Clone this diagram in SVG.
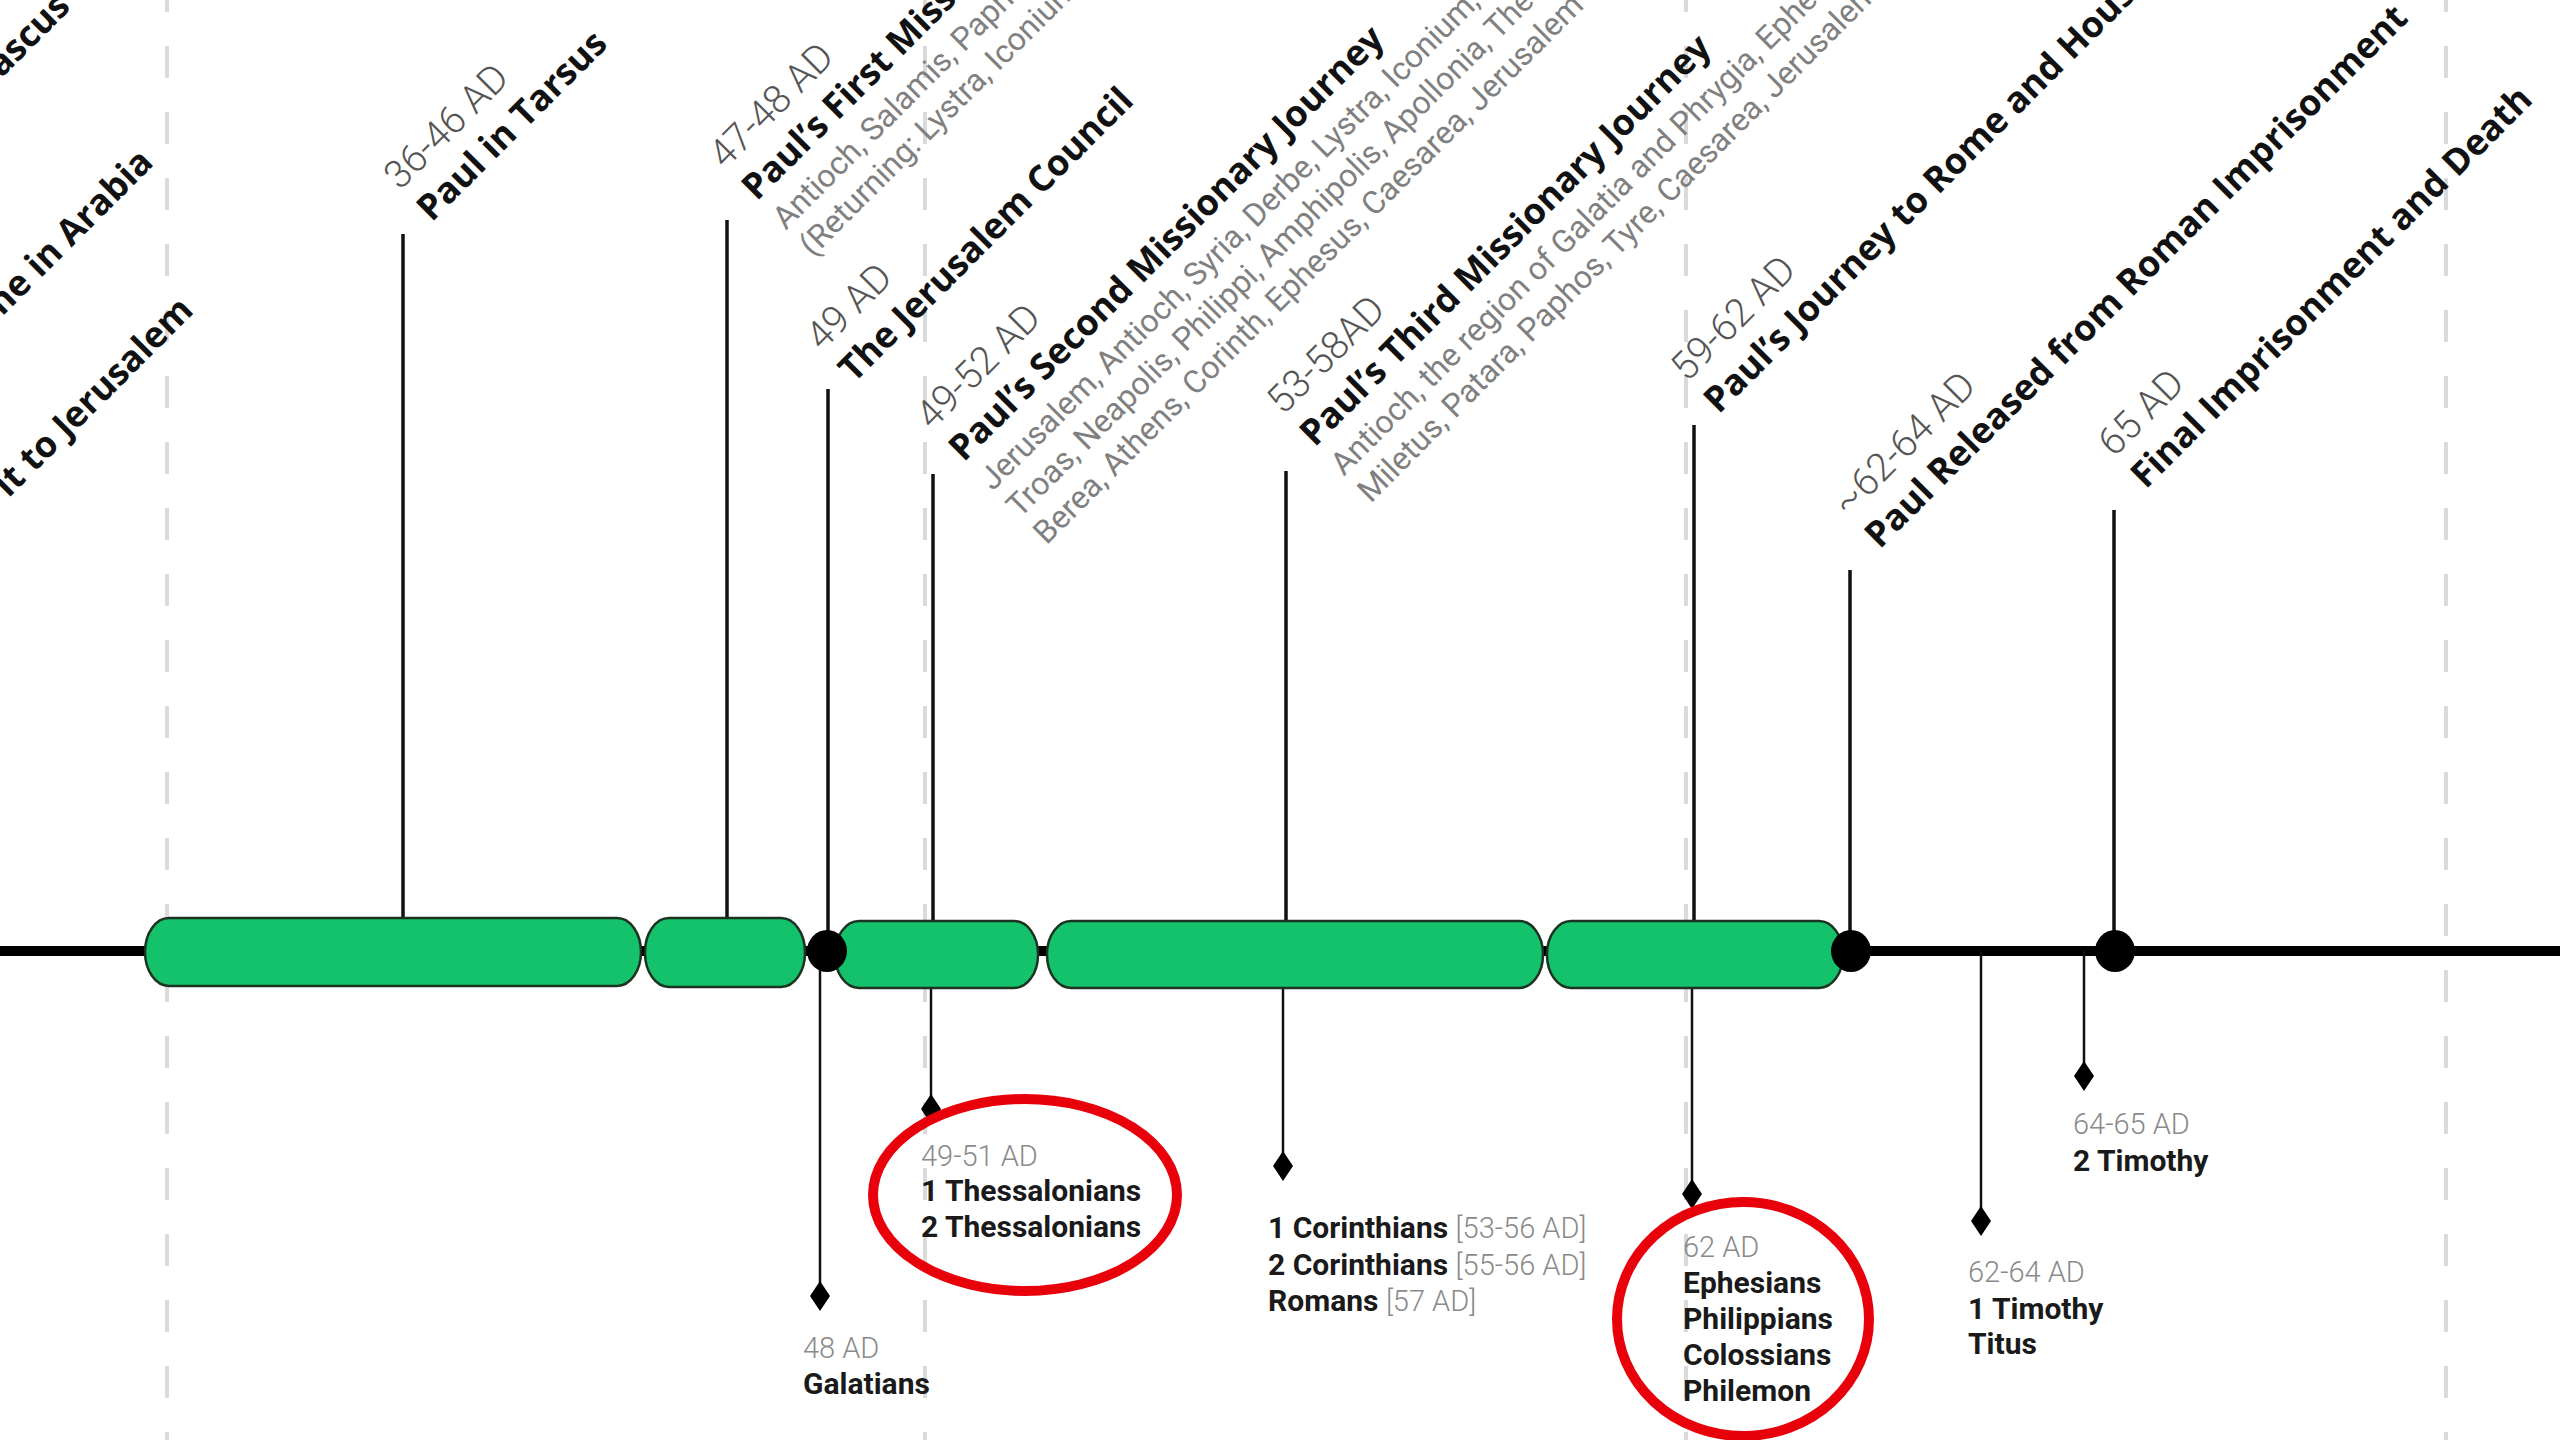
<svg xmlns="http://www.w3.org/2000/svg" width="2560" height="1440" viewBox="0 0 2560 1440">
<style>
.date{font-family:Roboto,"Liberation Sans",sans-serif;font-weight:300;font-size:39px;fill:#555}
.title{font-family:"Open Sans","Liberation Sans",sans-serif;font-weight:700;font-size:36px;fill:#111}
.loc{font-family:Roboto,"Liberation Sans",sans-serif;font-weight:400;font-size:32px;fill:#808080}
.bdate{font-family:Roboto,"Liberation Sans",sans-serif;font-weight:300;font-size:29px;fill:#8a8a8a}
.book{font-family:Roboto,"Liberation Sans",sans-serif;font-weight:700;font-size:30px;fill:#1a1a1a}
.grid{stroke:#dadada;stroke-width:4;stroke-dasharray:32 34;fill:none}
.stem{stroke:#111;stroke-width:3.5;fill:none}
.bstem{stroke:#111;stroke-width:2.5;fill:none}
.pill{fill:#13c26b;stroke:#1d3322;stroke-width:2.5}
.dot{fill:#000}
.dia{fill:#000}
.ring{fill:none;stroke:#e8000b;stroke-width:10}
</style>
<rect width="2560" height="1440" fill="#fff"/>
<g id="axis">
<line x1="0" y1="951" x2="2560" y2="951" stroke="#000" stroke-width="10"/>
</g>
<g id="grid">
<line class="grid" x1="167" y1="-20" x2="167" y2="1440"/>
<line class="grid" x1="925" y1="-20" x2="925" y2="1440"/>
<line class="grid" x1="1686" y1="-20" x2="1686" y2="1440"/>
<line class="grid" x1="2446" y1="-20" x2="2446" y2="1440"/>
</g>
<g id="connectors">
<line class="stem" x1="403" y1="234" x2="403" y2="918"/>
<line class="stem" x1="727" y1="220" x2="727" y2="918"/>
<line class="stem" x1="828" y1="389" x2="828" y2="951"/>
<line class="stem" x1="933" y1="474" x2="933" y2="921"/>
<line class="stem" x1="1286" y1="471" x2="1286" y2="921"/>
<line class="stem" x1="1694" y1="425" x2="1694" y2="921"/>
<line class="stem" x1="1850" y1="570" x2="1850" y2="951"/>
<line class="stem" x1="2114" y1="510" x2="2114" y2="951"/>
<line class="bstem" x1="820" y1="951" x2="820" y2="1296"/>
<line class="bstem" x1="931" y1="988" x2="931" y2="1109"/>
<line class="bstem" x1="1283" y1="988" x2="1283" y2="1166"/>
<line class="bstem" x1="1692" y1="988" x2="1692" y2="1194"/>
<line class="bstem" x1="1981" y1="951" x2="1981" y2="1221"/>
<line class="bstem" x1="2084" y1="951" x2="2084" y2="1076"/>
</g>
<g id="periods">
<rect id="p1" class="pill" x="145" y="918" width="496" height="68" rx="24" ry="34"/>
<rect id="p2" class="pill" x="645" y="918" width="160" height="69" rx="24" ry="34"/>
<rect id="p3" class="pill" x="835" y="921" width="203" height="67" rx="24" ry="33"/>
<rect id="p4" class="pill" x="1047" y="921" width="496" height="67" rx="24" ry="33"/>
<rect id="p5" class="pill" x="1547" y="921" width="296" height="67" rx="24" ry="33"/>
</g>
<g id="points">
<ellipse class="dot" cx="827" cy="951" rx="20" ry="21"/>
<ellipse class="dot" cx="1851" cy="951" rx="20" ry="21"/>
<ellipse class="dot" cx="2115" cy="951" rx="20" ry="21"/>
<path class="dia" d="M820 1281 L830 1296 L820 1311 L810 1296 Z"/>
<path class="dia" d="M931 1094 L941 1109 L931 1124 L921 1109 Z"/>
<path class="dia" d="M1283 1151 L1293 1166 L1283 1181 L1273 1166 Z"/>
<path class="dia" d="M1692 1179 L1702 1194 L1692 1209 L1682 1194 Z"/>
<path class="dia" d="M1981 1206 L1991 1221 L1981 1236 L1971 1221 Z"/>
<path class="dia" d="M2084 1061 L2094 1076 L2084 1091 L2074 1076 Z"/>
</g>
<g id="ev-cut1" transform="translate(72,8) rotate(-45)"><text class="title" text-anchor="end">ascus</text></g>
<g id="ev-cut2" transform="translate(155,164) rotate(-45)"><text class="title" text-anchor="end">me in Arabia</text></g>
<g id="ev-cut3" transform="translate(195,312) rotate(-45)"><text class="title" text-anchor="end">it to Jerusalem</text></g>
<g id="ev-tarsus" transform="translate(400,191) rotate(-45)">
<text class="date">36-46 AD</text>
<text class="title" y="45">Paul in Tarsus</text>
</g>
<g id="ev-first" transform="translate(725,170) rotate(-45)">
<text class="date">47-48 AD</text>
<text class="title" y="45">Paul’s First Miss</text>
<text class="loc" y="86">Antioch, Salamis, Papho</text>
<text class="loc" y="124">(Returning: Lystra, Iconium,</text>
</g>
<g id="ev-council" transform="translate(822,352) rotate(-45)">
<text class="date">49 AD</text>
<text class="title" y="45">The Jerusalem Council</text>
</g>
<g id="ev-second" transform="translate(932,431) rotate(-45)">
<text class="date">49-52 AD</text>
<text class="title" y="45">Paul’s Second Missionary Journey</text>
<text class="loc" y="86">Jerusalem, Antioch, Syria, Derbe, Lystra, Iconium, Ph</text>
<text class="loc" y="124">Troas, Neapolis, Philippi, Amphipolis, Apollonia, Thessa</text>
<text class="loc" y="162">Berea, Athens, Corinth, Ephesus, Caesarea, Jerusalem</text>
</g>
<g id="ev-third" transform="translate(1283,416) rotate(-45)">
<text class="date">53-58AD</text>
<text class="title" y="45">Paul’s Third Missionary Journey</text>
<text class="loc" y="86">Antioch, the region of Galatia and Phrygia, Ephesus</text>
<text class="loc" y="124">Miletus, Patara, Paphos, Tyre, Caesarea, Jerusalem</text>
</g>
<g id="ev-rome" transform="translate(1687,383) rotate(-45)">
<text class="date">59-62 AD</text>
<text class="title" y="45">Paul’s Journey to Rome and House</text>
</g>
<g id="ev-released" transform="translate(1848,518) rotate(-45)">
<text class="date">~62-64 AD</text>
<text class="title" y="45">Paul Released from Roman Imprisonment</text>
</g>
<g id="ev-final" transform="translate(2114,458) rotate(-45)">
<text class="date">65 AD</text>
<text class="title" y="45">Final Imprisonment and Death</text>
</g>
<g id="lt-galatians">
<text class="bdate" x="803" y="1358">48 AD</text>
<text class="book" x="803" y="1394">Galatians</text>
</g>
<g id="lt-thess">
<text class="bdate" x="921" y="1166">49-51 AD</text>
<text class="book" x="921" y="1201">1 Thessalonians</text>
<text class="book" x="921" y="1237">2 Thessalonians</text>
</g>
<g id="lt-cor">
<text class="book" x="1268" y="1238">1 Corinthians <tspan class="bdate">[53-56 AD]</tspan></text>
<text class="book" x="1268" y="1275">2 Corinthians <tspan class="bdate">[55-56 AD]</tspan></text>
<text class="book" x="1268" y="1311">Romans <tspan class="bdate">[57 AD]</tspan></text>
</g>
<g id="lt-prison">
<text class="bdate" x="1683" y="1257">62 AD</text>
<text class="book" x="1683" y="1293">Ephesians</text>
<text class="book" x="1683" y="1329">Philippians</text>
<text class="book" x="1683" y="1365">Colossians</text>
<text class="book" x="1683" y="1401">Philemon</text>
</g>
<g id="lt-tim1">
<text class="bdate" x="1968" y="1282">62-64 AD</text>
<text class="book" x="1968" y="1319">1 Timothy</text>
<text class="book" x="1968" y="1354">Titus</text>
</g>
<g id="lt-tim2">
<text class="bdate" x="2073" y="1134">64-65 AD</text>
<text class="book" x="2073" y="1171">2 Timothy</text>
</g>
<g id="highlights">
<ellipse class="ring" cx="1025" cy="1195" rx="152" ry="96"/>
<ellipse class="ring" cx="1743" cy="1319" rx="126" ry="117"/>
</g>
</svg>
